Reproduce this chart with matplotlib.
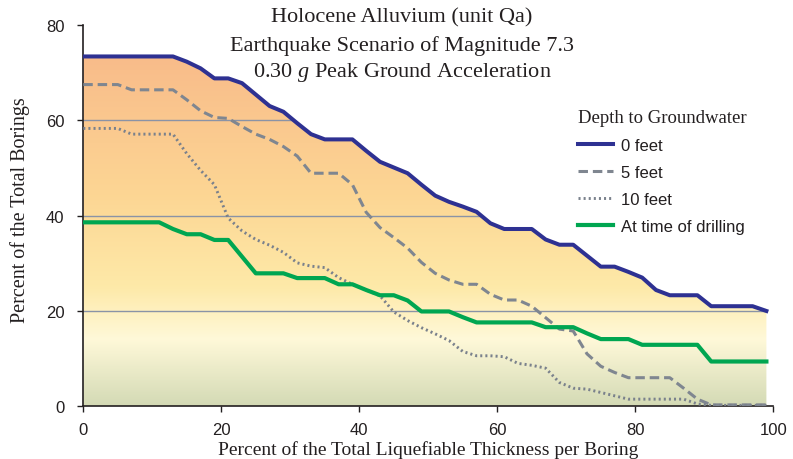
import matplotlib
matplotlib.use("Agg")
import matplotlib.pyplot as plt
import numpy as np
from matplotlib.colors import LinearSegmentedColormap
from matplotlib.patches import Polygon

# ---------------- data ----------------
x_pct = [0, 1, 3, 5, 7, 9, 11, 13, 15, 17, 19, 21, 23, 25, 27, 29, 31, 33, 35, 37,
         39, 41, 43, 45, 47, 49, 51, 53, 55, 57, 59, 61, 63, 65, 67, 69, 71, 73, 75, 77,
         79, 81, 83, 85, 87, 89, 91, 93, 95, 97, 99]

gw_0ft = [73.4, 73.4, 73.4, 73.4, 73.4, 73.4, 73.4, 73.4, 72.3, 70.9, 68.8, 68.8, 67.8, 65.4,
          63.0, 61.8, 59.4, 57.1, 56.0, 56.0, 56.0, 53.6, 51.3, 50.1, 48.9, 46.5, 44.2, 42.9,
          41.9, 40.8, 38.4, 37.2, 37.2, 37.2, 35.0, 33.9, 33.9, 31.6, 29.3, 29.3, 28.2, 27.0,
          24.4, 23.3, 23.3, 23.3, 21.0, 21.0, 21.0, 21.0, 20.0]

gw_5ft = [67.5, 67.5, 67.5, 67.5, 66.4, 66.4, 66.4, 66.4, 64.3, 62.0, 60.6, 60.4, 58.7, 57.1,
          56.0, 54.5, 52.5, 48.9, 48.9, 48.9, 46.5, 40.7, 37.5, 35.4, 33.2, 30.2, 27.9, 26.5,
          25.6, 25.6, 23.5, 22.3, 22.3, 21.0, 18.6, 16.2, 15.8, 11.0, 8.4, 7.1, 6.0, 6.0,
          6.0, 6.0, 3.8, 1.5, 0.3, 0.3, 0.3, 0.3, 0.3]

gw_10ft = [58.3, 58.3, 58.3, 58.3, 57.1, 57.1, 57.1, 57.1, 53.0, 49.5, 46.5, 39.5, 36.8, 35.0,
           33.8, 32.3, 30.1, 29.4, 29.1, 27.0, 25.6, 24.4, 23.2, 19.8, 18.0, 16.5, 15.2, 13.8,
           11.5, 10.6, 10.6, 10.4, 9.0, 8.6, 8.0, 5.0, 3.8, 3.6, 2.9, 2.2, 1.5, 1.5,
           1.5, 1.5, 1.5, 0.5, 0.2, 0.2, 0.2, 0.2, 0.2]

gw_drill = [38.6, 38.6, 38.6, 38.6, 38.6, 38.6, 38.6, 37.2, 36.1, 36.1, 34.9, 34.9, 31.4, 27.9,
            27.9, 27.9, 26.9, 26.9, 26.9, 25.6, 25.6, 24.4, 23.3, 23.3, 22.2, 19.9, 19.9, 19.9,
            18.7, 17.6, 17.6, 17.6, 17.6, 17.6, 16.6, 16.6, 16.6, 15.3, 14.1, 14.1, 14.1, 12.9,
            12.9, 12.9, 12.9, 12.9, 9.4, 9.4, 9.4, 9.4, 9.4]

series_labels = ["0 feet", "5 feet", "10 feet", "At time of drilling"]
x_ticks = [0, 20, 40, 60, 80, 100]
y_ticks = [0, 20, 40, 60, 80]
grid_levels = [20, 40, 60]

title_lines = ["Holocene Alluvium (unit Qa)",
               "Earthquake Scenario of Magnitude 7.3",
               r"0.30 $\mathit{g}$ Peak Ground Acceleration"]
x_label = "Percent of the Total Liquefiable Thickness per Boring"
y_label = "Percent of the Total Borings"
legend_title = "Depth to Groundwater"

# ---------------- style ----------------
plt.rcParams['mathtext.fontset'] = 'custom'
plt.rcParams['mathtext.rm'] = 'Liberation Serif'
plt.rcParams['mathtext.it'] = 'Liberation Serif:italic'
SERIF = 'Liberation Serif'
SANS = 'Liberation Sans'
TXT = '#231F20'

W, H = 793, 460
fig = plt.figure(figsize=(W / 100, H / 100), dpi=100)
x0, x1 = 83.3, 773.3
y0, y1 = 407.3, 26.0
ax = fig.add_axes([x0 / W, 1 - y0 / H, (x1 - x0) / W, (y0 - y1) / H])

ax.set_xlim(0, 100)
ax.set_ylim(0, 80)

# gradient area under the 0 ft curve
verts = [(x_pct[0], 0)] + list(zip(x_pct, gw_0ft)) + [(x_pct[-1], 0)]
poly = Polygon(verts, closed=True, facecolor='none', edgecolor='none')
ax.add_patch(poly)

stops = [(0.0, (0.83, 0.855, 0.71)),
         (0.19, (1.0, 0.975, 0.85)),
         (0.34, (0.995, 0.915, 0.66)),
         (0.6, (0.99, 0.84, 0.58)),
         (1.0, (0.975, 0.735, 0.54))]
cmap = LinearSegmentedColormap.from_list('grad', stops)
ymax = max(gw_0ft)
grad = np.linspace(1, 0, 256).reshape(-1, 1)
im = ax.imshow(grad, cmap=cmap, extent=[0, 100, 0, ymax], aspect='auto',
               origin='upper', zorder=1, vmin=0, vmax=1)
im.set_clip_path(poly)

for g in grid_levels:
    gl = ax.axhline(g, color='#8A93A6', lw=1.0, zorder=2)
    gl.set_clip_path(poly)

l0, = ax.plot(x_pct, gw_0ft, color='#2E3192', lw=2.9, zorder=5, solid_joinstyle='round')
l5, = ax.plot(x_pct, gw_5ft, color='#7F8690', lw=2.2, zorder=4, dashes=(3.1, 1.6))
l10, = ax.plot(x_pct, gw_10ft, color='#7A818C', lw=2.1, zorder=4, dashes=(0.7, 1.05))
ld, = ax.plot(x_pct, gw_drill, color='#00A651', lw=3.0, zorder=5, solid_joinstyle='round')

# axes styling
for s in ['top', 'right']:
    ax.spines[s].set_visible(False)
for s in ['left', 'bottom']:
    ax.spines[s].set_color(TXT)
    ax.spines[s].set_linewidth(1.2)
ax.set_xticks(x_ticks)
ax.set_yticks(y_ticks)
ax.tick_params(direction='out', length=4.5, width=1.0, colors=TXT, labelsize=12)
ax.tick_params(axis='y', pad=9)
ax.tick_params(axis='x', pad=7)
for lab in ax.get_xticklabels() + ax.get_yticklabels():
    lab.set_fontfamily(SANS)
    lab.set_color(TXT)

# titles and labels
title_y = [18, 46, 73]
for t, yy in zip(title_lines, title_y):
    fig.text(402 / W, 1 - yy / H, t, ha='center', va='center', fontsize=16,
             family=SERIF, color=TXT)
fig.text(428 / W, 1 - 450 / H, x_label, ha='center', va='center', fontsize=14,
         family=SERIF, color=TXT)
fig.text(20 / W, 1 - 210 / H, y_label, ha='center', va='center', fontsize=14.5,
         family=SERIF, color=TXT, rotation=90)

leg = ax.legend([l0, l5, l10, ld], series_labels, loc='upper left',
                bbox_to_anchor=(578 / W, 1 - 110 / H), bbox_transform=fig.transFigure,
                frameon=False, title=legend_title,
                title_fontproperties={'family': SERIF, 'size': 13.5},
                prop={'family': SANS, 'size': 12},
                handlelength=2.1, handletextpad=0.5, labelspacing=0.72,
                borderpad=0, borderaxespad=0, alignment='left')
for t in leg.get_texts():
    t.set_color(TXT)
leg.get_title().set_color(TXT)

fig.savefig('out.png', dpi=100)
